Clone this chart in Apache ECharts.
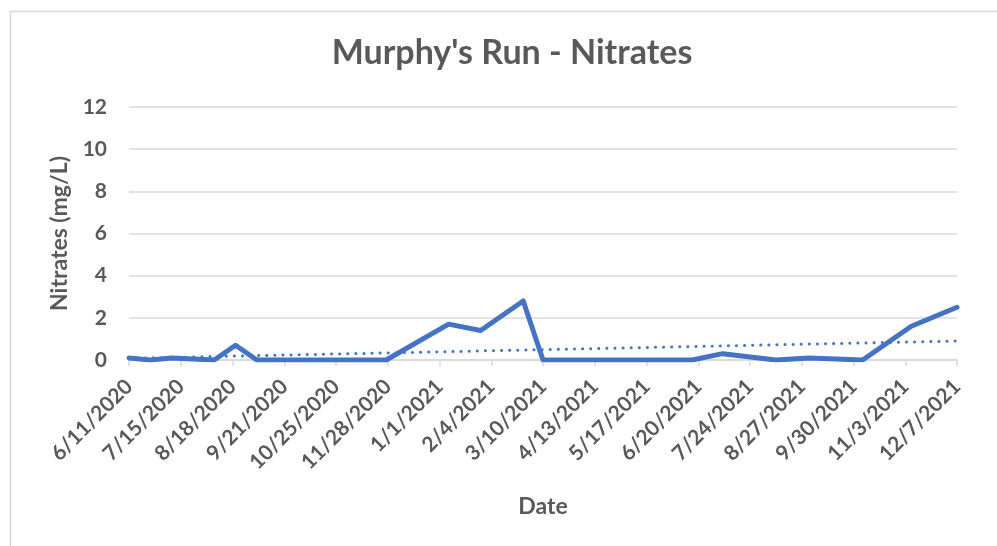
<!DOCTYPE html>
<html>
<head>
<meta charset="utf-8">
<script src="https://cdn.jsdelivr.net/npm/echarts@6/dist/echarts.min.js"></script>
<style>
html, body { margin: 0; padding: 0; background: #fff; }
#main { width: 997px; height: 546px; }
</style>
</head>
<body>
<div id="main"></div>
<script>
// sample dates and nitrate readings (mg/L)
var sampleDates = ['2020-06-11', '2020-06-25', '2020-07-09', '2020-08-06', '2020-08-20', '2020-09-03',
	'2020-11-27', '2021-01-07', '2021-01-28', '2021-02-25', '2021-03-10', '2021-06-16',
	'2021-07-06', '2021-08-10', '2021-09-01', '2021-10-06', '2021-11-07', '2021-12-07'];
var nitrates = [0.1, 0.0, 0.1, 0.0, 0.7, 0.0,
	0.0, 1.7, 1.4, 2.8, 0.0, 0.0,
	0.3, 0.0, 0.1, 0.0, 1.6, 2.5];
// linear trendline end points
var trendDates = ['2020-06-11', '2021-12-07'];
var trendValues = [0.08, 0.9];
var yTicks = [0, 2, 4, 6, 8, 10, 12];
var axisStart = '2020-06-11';
var axisEnd = '2021-12-07';
var tickDays = 34;

var DAY = 86400000;
function toDay(s) {
	var p = s.split('-');
	var a = axisStart.split('-');
	return Math.round((Date.UTC(+p[0], +p[1] - 1, +p[2]) - Date.UTC(+a[0], a[1] - 1, +a[2])) / DAY);
}
function dayLabel(v) {
	var a = axisStart.split('-');
	var d = new Date(Date.UTC(+a[0], a[1] - 1, +a[2]) + v * DAY);
	return (d.getUTCMonth() + 1) + '/' + d.getUTCDate() + '/' + d.getUTCFullYear();
}

var lineData = sampleDates.map(function (d, i) { return [toDay(d), nitrates[i]]; });
var trendData = trendDates.map(function (d, i) { return [toDay(d), trendValues[i]]; });

var myChart = echarts.init(document.getElementById('main'));
var grey = '#595959';
var font = 'Lato, "Open Sans", sans-serif';
var option = {
	animation: false,
	backgroundColor: '#fff',
	graphic: [{
		type: 'rect',
		left: 8, top: 9,
		shape: { width: 1000, height: 600 },
		style: { fill: 'none', stroke: '#d9d9d9', lineWidth: 1.5 },
		silent: true
	}],
	title: {
		text: "Murphy's Run - Nitrates",
		left: 507,
		textAlign: 'center',
		top: 31,
		textStyle: { color: grey, fontFamily: font, fontWeight: 'bold', fontSize: 34 }
	},
	grid: { left: 129, right: 40, top: 107, bottom: 186 },
	xAxis: {
		type: 'value',
		min: 0,
		max: toDay(axisEnd),
		interval: tickDays,
		name: 'Date',
		nameLocation: 'middle',
		nameGap: 135,
		nameTextStyle: { color: grey, fontFamily: font, fontWeight: 'bold', fontSize: 23 },
		splitLine: { show: false },
		axisLine: { show: true, lineStyle: { color: '#d9d9d9', width: 1.5 } },
		axisTick: { show: true, length: 6, lineStyle: { color: '#d9d9d9', width: 1.5 } },
		axisLabel: {
			rotate: 45,
			margin: 23,
			color: grey,
			fontFamily: font,
			fontWeight: 'bold',
			fontSize: 21,
			showMaxLabel: true,
			formatter: dayLabel
		}
	},
	yAxis: {
		type: 'value',
		min: yTicks[0],
		max: yTicks[yTicks.length - 1],
		interval: 2,
		name: 'Nitrates (mg/L)',
		nameLocation: 'middle',
		nameGap: 58,
		nameTextStyle: { color: grey, fontFamily: font, fontWeight: 'bold', fontSize: 23 },
		axisLine: { show: false },
		axisTick: { show: false },
		splitLine: { lineStyle: { color: '#d9d9d9', width: 1.5 } },
		axisLabel: { color: grey, fontFamily: font, fontWeight: 'bold', fontSize: 21, margin: 22 }
	},
	series: [{
		type: 'line',
		data: trendData,
		symbol: 'none',
		silent: true,
		lineStyle: { color: '#4472C4', width: 3, type: [0.1, 8], cap: 'round' },
		z: 2
	}, {
		type: 'line',
		data: lineData,
		symbol: 'none',
		lineStyle: { color: '#4472C4', width: 5, cap: 'round', join: 'round' },
		z: 3
	}]
};
myChart.setOption(option);
window.onresize = myChart.resize;
</script>
</body>
</html>
